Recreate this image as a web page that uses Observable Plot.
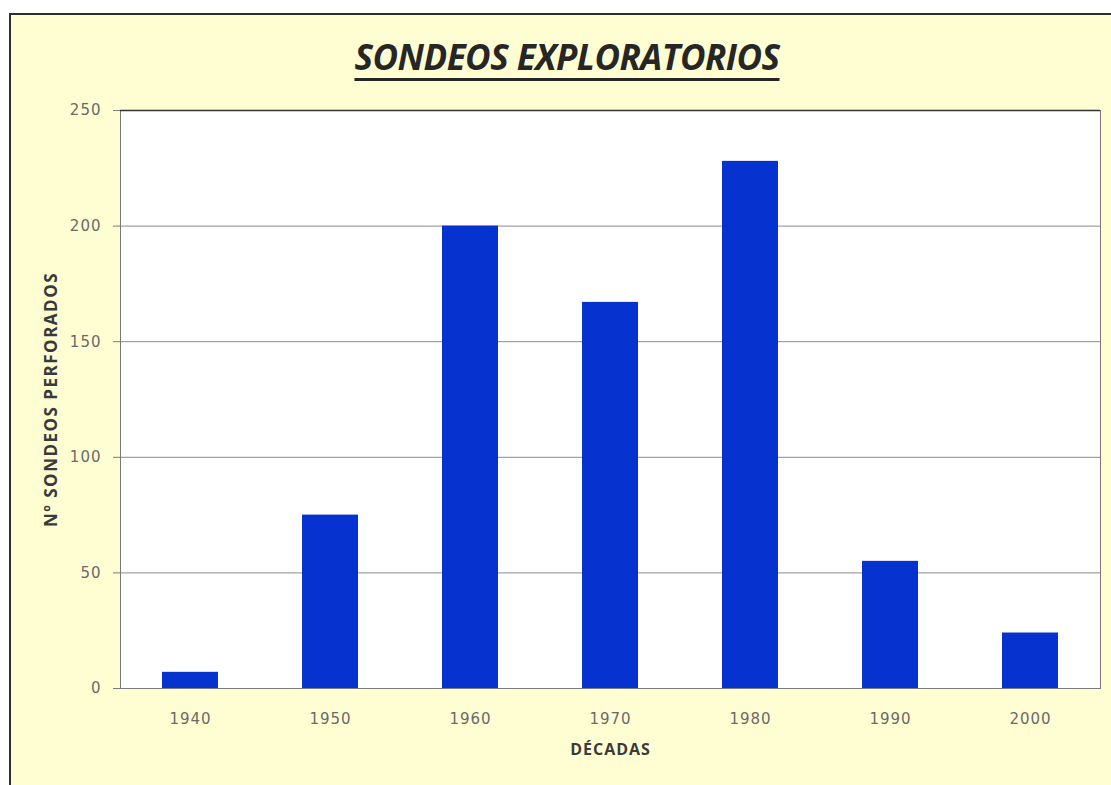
<!DOCTYPE html>
<html>
<head>
<meta charset="utf-8">
<script src="https://cdn.jsdelivr.net/npm/d3@7"></script>
<script src="https://cdn.jsdelivr.net/npm/@observablehq/plot@0.6"></script>
<style>
  html, body { margin: 0; padding: 0; background: #ffffff; overflow: hidden; width: 1111px; height: 785px; }
  #box { position: absolute; left: 9px; top: 13px; width: 1200px; height: 900px; background: #FFFDD2; border: 2px solid #2f2f2a; }
  #title { position: absolute; left: 0; top: 37px; width: 1134px; text-align: center; line-height: 40px;
           font-family: "Open Sans", sans-serif; font-weight: bold; font-style: italic; font-size: 35px;
           color: #262626; text-decoration: underline; text-decoration-thickness: 3px; text-underline-offset: 8px;
           letter-spacing: -0.5px; }
  #chart { position: absolute; left: 0; top: 0; }
  #chart svg { font-family: "DejaVu Sans", sans-serif; }
  g[aria-label="y-axis tick label"] text, g[aria-label="x-axis tick label"] text { letter-spacing: 1px; }
  g[aria-label="y-axis label"] text, g[aria-label="x-axis label"] text { font-family: "Open Sans", sans-serif; font-weight: bold; font-size: 17px; fill: #3a3a3a; letter-spacing: 1.5px; }
  g[aria-label="x-axis label"] text { font-size: 16px; letter-spacing: 1px; }
</style>
</head>
<body>
<div id="box"></div>
<div id="title">SONDEOS EXPLORATORIOS</div>
<div id="chart"></div>
<script>
const decades = ["1940", "1950", "1960", "1970", "1980", "1990", "2000"];
const counts = [7, 75, 200, 167, 228, 55, 24];
const yTicks = [0, 50, 100, 150, 200, 250];

const data = decades.map((d, i) => ({decade: d, value: counts[i]}));

const chart = Plot.plot({
  width: 1111,
  height: 785,
  marginLeft: 120,
  marginRight: 11,
  marginTop: 110,
  marginBottom: 97,
  style: {background: "transparent", fontSize: "15px", color: "#6a6a6a"},
  x: {domain: decades, paddingInner: 0.6, paddingOuter: 0.3},
  y: {domain: [0, 250]},
  marks: [
    Plot.frame({fill: "white", stroke: null}),
    Plot.gridY(yTicks.filter(v => v > 0 && v < 250), {stroke: "#8a8a8a", strokeOpacity: 1}),
    Plot.barY(data, {x: "decade", y: "value", fill: "#0632D0"}),
    Plot.frame({stroke: "#7a7a7a"}),
    Plot.ruleY([250], {stroke: "#333", strokeWidth: 1.5}),
    Plot.axisY({ticks: yTicks, tickSize: 7, tickPadding: 12, stroke: "#7a7a7a",
      label: "Nº SONDEOS PERFORADOS", labelAnchor: "center", labelArrow: "none", labelOffset: 76}),
    Plot.axisX({tickSize: 0, tickPadding: 25, label: "DÉCADAS", labelAnchor: "center", labelArrow: "none", labelOffset: 66})
  ]
});
document.getElementById("chart").appendChild(chart);
</script>
</body>
</html>
